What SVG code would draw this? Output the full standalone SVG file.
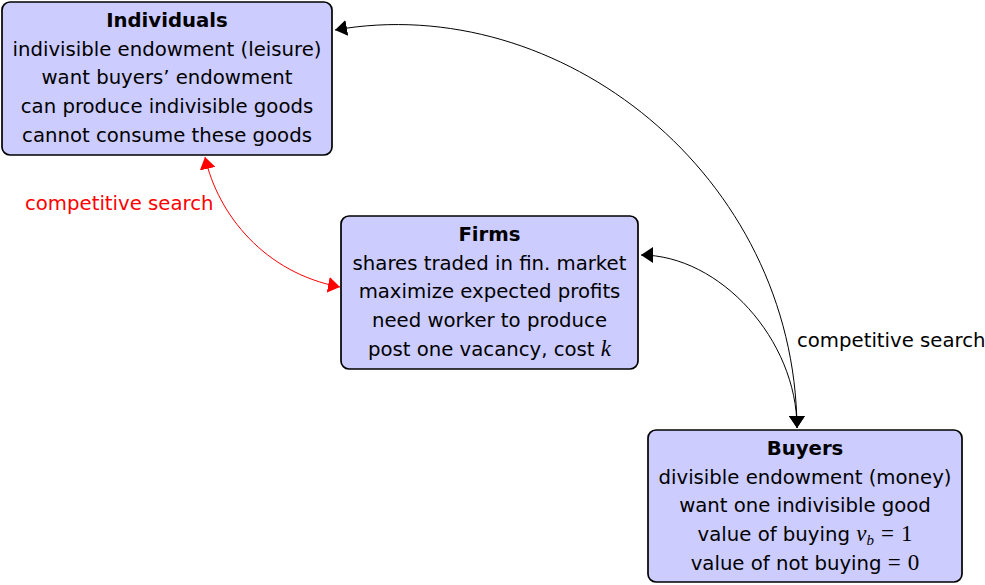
<svg xmlns="http://www.w3.org/2000/svg" width="985" height="585" viewBox="0 0 985 585">
<style>
.box{fill:#ccccff;stroke:#000;stroke-width:1.7}
text{font-family:"DejaVu Sans",sans-serif;font-size:19.7px;fill:#000;text-anchor:middle}
.t{font-weight:bold}
.m{font-family:"Liberation Serif","DejaVu Serif",serif;font-style:italic;font-size:23px}
.r{font-family:"Liberation Serif","DejaVu Serif",serif;font-size:23px}
.conn{fill:none;stroke:#000;stroke-width:1}
.red{stroke:#ff0000}
.lbl{text-anchor:start}
</style>
<defs>
<marker id="ab" viewBox="0 0 12 16" refX="12" refY="8" markerWidth="12" markerHeight="16" markerUnits="userSpaceOnUse" orient="auto-start-reverse">
<path d="M0,0 L12,8 L0,16 Z" fill="#000"/>
</marker>
<marker id="ar" viewBox="0 0 12 16" refX="12" refY="8" markerWidth="12" markerHeight="16" markerUnits="userSpaceOnUse" orient="auto-start-reverse">
<path d="M0,0 L12,8 L0,16 Z" fill="#ff0000"/>
</marker>
</defs>
<g id="connectors">
<path class="conn" d="M335,30 C560,-10 795,175 797,428" marker-start="url(#ab)" marker-end="url(#ab)"/>
<path class="conn" d="M641,255 C720,255 797,340 797,428" marker-start="url(#ab)" marker-end="url(#ab)"/>
<path class="conn red" d="M205,157 C218,215 265,273 340,287" marker-start="url(#ar)" marker-end="url(#ar)"/>
<text class="lbl" x="797" y="346.5">competitive search</text>
<text class="lbl" x="25" y="209.5" style="fill:#ff0000">competitive search</text>
</g>
<g id="individuals">
<rect class="box" x="2" y="2" width="330" height="153" rx="8"/>
<text class="t" x="167" y="27">Individuals</text>
<text x="167" y="55.7">indivisible endowment (leisure)</text>
<text x="167" y="84.4">want buyers’ endowment</text>
<text x="167" y="113.1">can produce indivisible goods</text>
<text x="167" y="141.8">cannot consume these goods</text>
</g>
<g id="firms">
<rect class="box" x="341" y="216" width="297" height="153" rx="8"/>
<text class="t" x="489.5" y="241">Firms</text>
<text x="489.5" y="269.7">shares traded in fin. market</text>
<text x="489.5" y="298.4">maximize expected profits</text>
<text x="489.5" y="327.1">need worker to produce</text>
<text x="489.5" y="355.8">post one vacancy, cost <tspan class="m">k</tspan></text>
</g>
<g id="buyers">
<rect class="box" x="648" y="430" width="314" height="152" rx="8"/>
<text class="t" x="805" y="455">Buyers</text>
<text x="805" y="483.7">divisible endowment (money)</text>
<text x="805" y="512.4">want one indivisible good</text>
<text x="805" y="541.1">value of buying <tspan class="m">v</tspan><tspan class="m" style="font-size:15px" dy="4">b</tspan><tspan class="r" dy="-4" dx="7">=</tspan><tspan class="r" dx="7">1</tspan></text>
<text x="805" y="569.8">value of not buying <tspan class="r" dx="0">=</tspan><tspan class="r" dx="7">0</tspan></text>
</g>
</svg>
